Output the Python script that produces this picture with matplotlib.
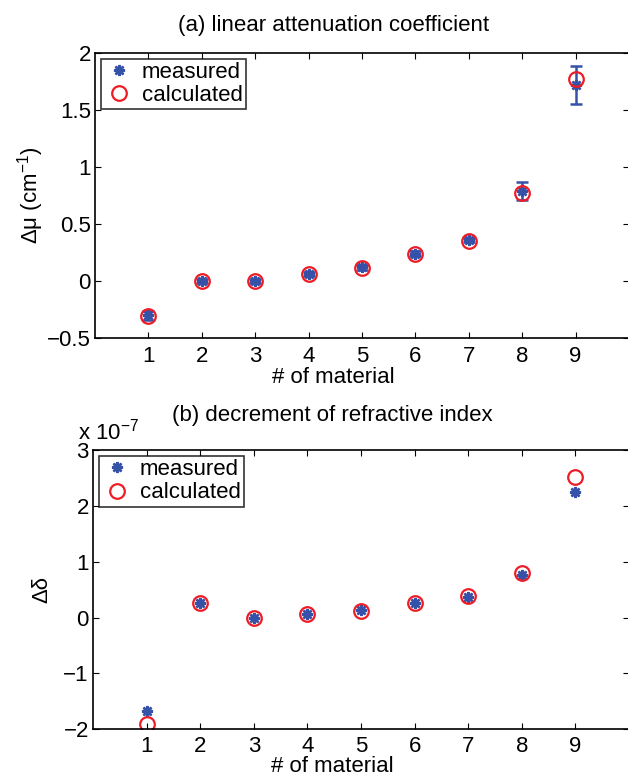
import matplotlib.pyplot as plt

plt.rcParams['font.family'] = ['Liberation Sans', 'DejaVu Sans']
plt.rcParams['mathtext.fontset'] = 'custom'
plt.rcParams['mathtext.rm'] = 'Liberation Sans'
plt.rcParams['mathtext.it'] = 'Liberation Sans'

# data
material = [1, 2, 3, 4, 5, 6, 7, 8, 9]
mu_measured = [-0.30, 0.0, 0.0, 0.06, 0.12, 0.24, 0.36, 0.79, 1.72]
mu_error = [0.04, 0.02, 0.02, 0.02, 0.02, 0.02, 0.02, 0.08, 0.17]
mu_calculated = [-0.31, 0.0, 0.0, 0.06, 0.11, 0.24, 0.35, 0.775, 1.775]

delta_measured = [-1.68, 0.27, 0.0, 0.07, 0.13, 0.26, 0.37, 0.76, 2.25]  # x 1e-7
delta_calculated = [-1.91, 0.27, 0.0, 0.06, 0.12, 0.26, 0.38, 0.80, 2.52]

blue = '#3552A8'
red = '#EE1C25'
fs = 16
asterisk = (8, 2, 0)
cx = 0.446  # titles / xlabels sit a bit left of the axes centre

fig = plt.figure(figsize=(6.28, 7.77), dpi=100)
ax1 = fig.add_axes([95 / 628, 0.565, 534 / 628, 0.3668])
ax2 = fig.add_axes([93 / 628, 0.0615, 536 / 628, 0.3590])

# (a) linear attenuation coefficient
ax1.errorbar(material, mu_measured, yerr=mu_error, fmt='none', ecolor=blue,
             elinewidth=1.8, capsize=4, capthick=1.8)
ax1.plot(material, mu_measured, ls='none', marker=asterisk, ms=8, mew=1.8,
         color=blue, label='measured')
ax1.plot(material, mu_calculated, ls='none', marker='o', ms=10.5, mew=1.6,
         mfc='none', mec=red, label='calculated')
ax1.set_xlim(0, 10)
ax1.set_ylim(-0.5, 2)
ax1.set_xticks(material)
ax1.set_yticks([-0.5, 0, 0.5, 1, 1.5, 2])
ax1.set_yticklabels(['\u22120.5', '0', '0.5', '1', '1.5', '2'])
ax1.set_title('(a) linear attenuation coefficient', fontsize=fs, pad=16, x=cx)
ax1.set_xlabel('# of material', fontsize=fs, labelpad=0, x=cx)
ax1.set_ylabel('\u0394\u03bc (cm$^{\\mathregular{-1}}$)', fontsize=fs, labelpad=1)

# (b) decrement of refractive index
ax2.plot(material, delta_measured, ls='none', marker=asterisk, ms=8, mew=1.8,
         color=blue, label='measured')
ax2.plot(material, delta_calculated, ls='none', marker='o', ms=10.5, mew=1.6,
         mfc='none', mec=red, label='calculated')
ax2.set_xlim(0, 10)
ax2.set_ylim(-2, 3)
ax2.set_xticks(material)
ax2.set_yticks([-2, -1, 0, 1, 2, 3])
ax2.set_yticklabels(['\u22122', '\u22121', '0', '1', '2', '3'])
ax2.set_title('(b) decrement of refractive index', fontsize=fs, pad=21, x=cx)
ax2.set_xlabel('# of material', fontsize=fs, labelpad=-1, x=cx)
ax2.set_ylabel('\u0394\u03b4', fontsize=fs, labelpad=8)
ax2.text(-0.028, 1.022, 'x 10$^{\\mathregular{-7}}$', transform=ax2.transAxes,
         fontsize=fs, ha='left', va='bottom')

for ax in (ax1, ax2):
    ax.tick_params(direction='in', length=4, width=0.8, labelsize=fs,
                   top=True, right=True)
    ax.tick_params(axis='x', pad=6)
    ax.tick_params(axis='y', pad=3)
    for sp in ax.spines.values():
        sp.set_linewidth(1.2)
    leg = ax.legend(loc='upper left', fontsize=fs, frameon=True, fancybox=False,
                    borderaxespad=0.25, handletextpad=0.3, borderpad=0.15,
                    labelspacing=0.1, handlelength=1.4, numpoints=1)
    leg.get_frame().set_edgecolor('black')
    leg.get_frame().set_linewidth(1.2)
ax2.tick_params(axis='x', pad=5)

plt.savefig('out.png', dpi=100)
